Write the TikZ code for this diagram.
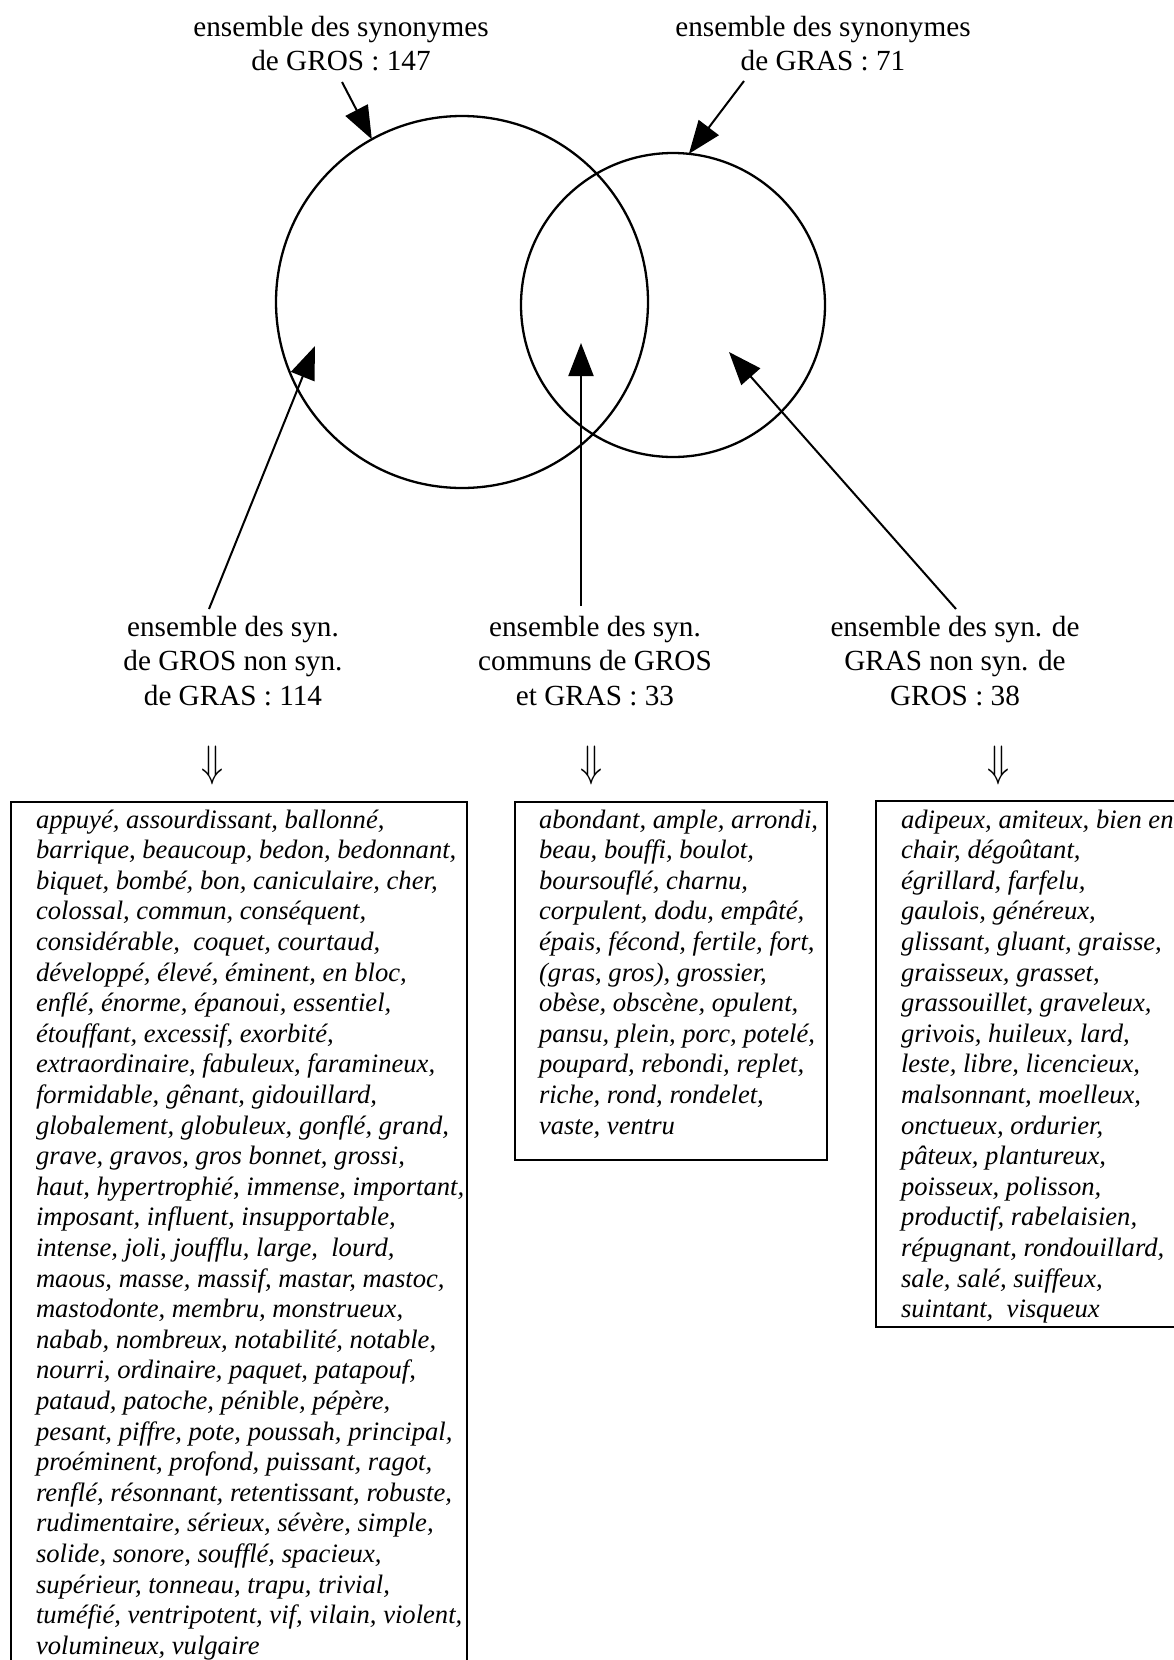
\documentclass[tikz,border=0pt]{standalone}
\usepackage{fontspec}
\usepackage{graphicx}
\setmainfont{Liberation Serif}
\usetikzlibrary{arrows.meta}
\newcommand{\fstrut}{\rule{0pt}{26pt}}
\begin{document}
\begin{tikzpicture}[x=1pt,y=-1pt,
  lab/.style={align=center, inner sep=0, outer sep=0, anchor=north, font=\fontsize{29.2}{34.5}\selectfont},
  lst/.style={align=left, inner sep=0, outer sep=0, anchor=north west, font=\fontsize{26.6}{30.6}\selectfont\itshape\frenchspacing},
  listbox/.style={draw, line width=1.8pt, rectangle, inner sep=0, outer sep=0, anchor=north west},
  venn/.style={draw, circle, line width=2.3pt, inner sep=0, outer sep=0},
  arr/.style={line width=2pt, -{Triangle[length=33pt,width=25pt]}},
  dbl/.style={inner sep=0}
]
\useasboundingbox (0,0) rectangle (1174,1660);

% sets
\node[venn, minimum size=372pt] (c1) at (462,302) {};
\node[venn, minimum size=304pt] (c2) at (673,305) {};

% top labels
\node[lab] (t1) at (341,10) {\fstrut ensemble des synonymes\\de GROS : 147};
\node[lab] (t2) at (823,10) {\fstrut ensemble des synonymes\\de GRAS : 71};

\coordinate (a1) at (342,82);
\coordinate (a2) at (744,81);
\draw[arr] (a1) -- (c1.119);
\draw[arr] (a2) -- (c2.84);

% bottom labels
\node[lab] (l1) at (233,610) {\fstrut ensemble des syn.\\de GROS non syn.\\de GRAS : 114};
\node[lab] (l2) at (595,610) {\fstrut ensemble des syn.\\communs de GROS\\et GRAS : 33};
\node[lab] (l3) at (955,610) {\fstrut ensemble des syn. de\\GRAS non syn. de\\GROS : 38};

\coordinate (b1) at (209,609);
\coordinate (e1) at (315,346);
\coordinate (b2) at (581,606);
\coordinate (e2) at (581,343);
\coordinate (b3) at (956,609);
\coordinate (e3) at (729,352);
\draw[arr] (b1) -- (e1);
\draw[arr] (b2) -- (e2);
\draw[arr] (b3) -- (e3);

% double arrows
\node[dbl] (d1) at (212,765) {\scalebox{3.6}[4.4]{$\Downarrow$}};
\node[dbl] (d2) at (591,765) {\scalebox{3.6}[4.4]{$\Downarrow$}};
\node[dbl] (d3) at (998,765) {\scalebox{3.6}[4.4]{$\Downarrow$}};

% boxes
\node[listbox, minimum width=456pt, minimum height=950pt] (f1) at (11,802) {};
\node[listbox, minimum width=312pt, minimum height=358pt] (f2) at (515,802) {};
\node[listbox, minimum width=340pt, minimum height=526pt] (f3) at (876,801) {};

\node[lst] (x1) at (36,802) {\fstrut appuyé, assourdissant, ballonné,\\
barrique, beaucoup, bedon, bedonnant,\\
biquet, bombé, bon, caniculaire, cher,\\
colossal, commun, conséquent,\\
considérable,\ \ coquet, courtaud,\\
développé, élevé, éminent, en bloc,\\
enflé, énorme, épanoui, essentiel,\\
étouffant, excessif, exorbité,\\
extraordinaire, fabuleux, faramineux,\\
formidable, gênant, gidouillard,\\
globalement, globuleux, gonflé, grand,\\
grave, gravos, gros bonnet, grossi,\\
haut, hypertrophié, immense, important,\\
imposant, influent, insupportable,\\
intense, joli, joufflu, large,\ \ lourd,\\
maous, masse, massif, mastar, mastoc,\\
mastodonte, membru, monstrueux,\\
nabab, nombreux, notabilité, notable,\\
nourri, ordinaire, paquet, patapouf,\\
pataud, patoche, pénible, pépère,\\
pesant, piffre, pote, poussah, principal,\\
proéminent, profond, puissant, ragot,\\
renflé, résonnant, retentissant, robuste,\\
rudimentaire, sérieux, sévère, simple,\\
solide, sonore, soufflé, spacieux,\\
supérieur, tonneau, trapu, trivial,\\
tuméfié, ventripotent, vif, vilain, violent,\\
volumineux, vulgaire};

\node[lst] (x2) at (539,802) {\fstrut abondant, ample, arrondi,\\
beau, bouffi, boulot,\\
boursouflé, charnu,\\
corpulent, dodu, empâté,\\
épais, fécond, fertile, fort,\\
(gras, gros), grossier,\\
obèse, obscène, opulent,\\
pansu, plein, porc, potelé,\\
poupard, rebondi, replet,\\
riche, rond, rondelet,\\
vaste, ventru};

\node[lst] (x3) at (901,802) {\fstrut adipeux, amiteux, bien en\\
chair, dégoûtant,\\
égrillard, farfelu,\\
gaulois, généreux,\\
glissant, gluant, graisse,\\
graisseux, grasset,\\
grassouillet, graveleux,\\
grivois, huileux, lard,\\
leste, libre, licencieux,\\
malsonnant, moelleux,\\
onctueux, ordurier,\\
pâteux, plantureux,\\
poisseux, polisson,\\
productif, rabelaisien,\\
répugnant, rondouillard,\\
sale, salé, suiffeux,\\
suintant,\ \ visqueux};
\end{tikzpicture}
\end{document}
